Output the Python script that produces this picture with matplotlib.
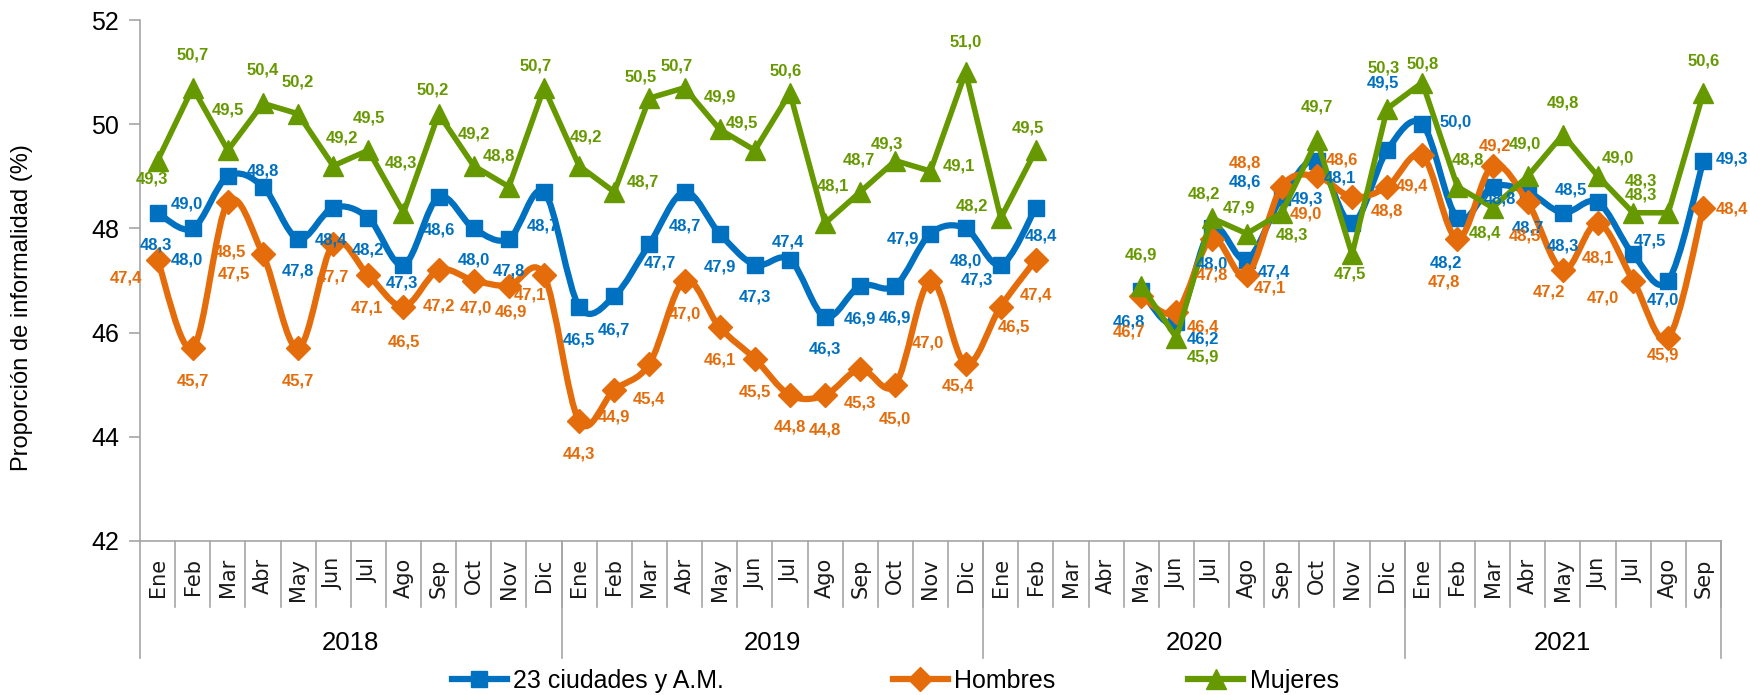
import numpy as np
import matplotlib.pyplot as plt
from matplotlib.path import Path
from matplotlib.patches import PathPatch
from matplotlib.lines import Line2D

# datos
meses = ['Ene', 'Feb', 'Mar', 'Abr', 'May', 'Jun', 'Jul', 'Ago', 'Sep', 'Oct', 'Nov', 'Dic']
anios = ['2018', '2019', '2020', '2021']
meses_por_anio = [12, 12, 12, 9]

ciudades = [48.3, 48.0, 49.0, 48.8, 47.8, 48.4, 48.2, 47.3, 48.6, 48.0, 47.8, 48.7,
            46.5, 46.7, 47.7, 48.7, 47.9, 47.3, 47.4, 46.3, 46.9, 46.9, 47.9, 48.0,
            47.3, 48.4, None, None, 46.8, 46.2, 48.0, 47.4, 48.6, 49.3, 48.1, 49.5,
            50.0, 48.2, 48.8, 48.7, 48.3, 48.5, 47.5, 47.0, 49.3]
hombres = [47.4, 45.7, 48.5, 47.5, 45.7, 47.7, 47.1, 46.5, 47.2, 47.0, 46.9, 47.1,
           44.3, 44.9, 45.4, 47.0, 46.1, 45.5, 44.8, 44.8, 45.3, 45.0, 47.0, 45.4,
           46.5, 47.4, None, None, 46.7, 46.4, 47.8, 47.1, 48.8, 49.0, 48.6, 48.8,
           49.4, 47.8, 49.2, 48.5, 47.2, 48.1, 47.0, 45.9, 48.4]
mujeres = [49.3, 50.7, 49.5, 50.4, 50.2, 49.2, 49.5, 48.3, 50.2, 49.2, 48.8, 50.7,
           49.2, 48.7, 50.5, 50.7, 49.9, 49.5, 50.6, 48.1, 48.7, 49.3, 49.1, 51.0,
           48.2, 49.5, None, None, 46.9, 45.9, 48.2, 47.9, 48.3, 49.7, 47.5, 50.3,
           50.8, 48.8, 48.4, 49.0, 49.8, 49.0, 48.3, 48.3, 50.6]
nombres = ['23 ciudades y A.M.', 'Hombres', 'Mujeres']

# posicion de las etiquetas de datos (pixeles respecto al marcador)
off_ciudades = [(-2, -32), (-6, -32), (-41, -28), (0, 16), (0, -32), (-2, -32), (0, -32), (-2, -18),
                (0, -33), (0, -32), (0, -32), (-1, -34),
                (0, -33), (0, -34), (11, -19), (0, -34), (0, -33), (0, -32), (-2, 18), (0, -32),
                (0, -33), (0, -32), (-28, -5), (0, -33),
                (-24, -15), (5, -28), None, None, (-12, -31), (27, -17), (0, -36), (27, -12),
                (-37, 15), (-10, -38), (-12, 45), (-4, 67),
                (33, 2), (-12, -45), (7, -12), (0, -36), (0, -33), (-27, 12), (17, 13), (-5, -19), (29, 2)]
off_hombres = [(-32, -18), (0, -33), (2, -50), (-29, -20), (0, -33), (0, -33), (-1, -33), (0, -35),
               (0, -36), (2, -27), (2, -26), (-14, -20),
               (0, -33), (0, -27), (0, -35), (0, -33), (0, -33), (0, -33), (0, -32), (0, -35),
               (0, -34), (0, -34), (-3, -62), (-8, -22),
               (13, -20), (0, -35), None, None, (-12, -36), (27, -15), (0, -36), (23, -13),
               (-37, 24), (-11, -38), (-10, 37), (0, -24),
               (-10, -31), (-14, -43), (2, 20), (-3, -34), (-14, -22), (0, -35), (-30, -17), (-5, -17), (29, -1)]
off_mujeres = [(-6, -18), (0, 33), (0, 40), (0, 33), (0, 32), (9, 28), (1, 32), (-3, 50),
               (-6, 24), (0, 32), (-10, 31), (-8, 22),
               (7, 29), (29, 10), (-9, 21), (-8, 22), (0, 32), (-13, 27), (-4, 22), (8, 37),
               (-1, 32), (-8, 17), (28, 5), (0, 30),
               (-29, 12), (-8, 22), None, None, (0, 31), (27, -19), (-8, 24), (-8, 26),
               (10, -22), (0, 33), (-2, -20), (-4, 41),
               (0, 19), (10, 27), (-8, -25), (-3, 32), (0, 32), (20, 18), (8, 32), (-27, 18), (0, 32)]

AZUL = '#0070C0'
NARANJA = '#E46C0A'
VERDE = '#669900'
GRIS = '#A6A6A6'
FUENTE = ['Liberation Sans', 'DejaVu Sans']


def linea_suave(ax, x, y, color, lw, z):
    # linea suavizada tipo Excel (bezier), cortada donde faltan datos
    tramos, actual = [], []
    for xi, yi in zip(x, y):
        if yi is None:
            if actual:
                tramos.append(actual)
            actual = []
        else:
            actual.append((xi, yi))
    if actual:
        tramos.append(actual)
    for pts in tramos:
        p = np.array(pts, float)
        verts = [p[0]]
        codes = [Path.MOVETO]
        for i in range(len(p) - 1):
            a = p[i - 1] if i > 0 else p[i]
            d = p[i + 2] if i + 2 < len(p) else p[i + 1]
            verts += [p[i] + (p[i + 1] - a) / 6, p[i + 1] - (d - p[i]) / 6, p[i + 1]]
            codes += [Path.CURVE4] * 3
        ax.add_patch(PathPatch(Path(verts, codes), fill=False, edgecolor=color, lw=lw,
                               capstyle='round', joinstyle='round', zorder=z))


fig = plt.figure(figsize=(17.5, 6.95), dpi=100)
ax = fig.add_axes([0.08, 0.2216, 0.9034, 0.7496])

x = np.arange(len(ciudades))

series = [
    (ciudades, AZUL, 's', 12, True, off_ciudades, 2),
    (hombres, NARANJA, 'D', 12, True, off_hombres, 3),
    (mujeres, VERDE, '^', 15, False, off_mujeres, 4),
]
for valores, color, marcador, ms, suave, offs, z in series:
    yv = np.array([np.nan if v is None else v for v in valores])
    if suave:
        linea_suave(ax, x, valores, color, 4.5, z)
        ax.plot(x, yv, ls='none', marker=marcador, ms=ms, color=color, zorder=z)
    else:
        ax.plot(x, yv, lw=4.0, marker=marcador, ms=ms, color=color, zorder=z,
                solid_joinstyle='miter')
    for xi, v, o in zip(x, valores, offs):
        if v is None:
            continue
        ax.annotate(f'{v:.1f}'.replace('.', ','), (xi, v), xytext=o, textcoords='offset pixels',
                    ha='center', va='center', color=color, fontsize=12, fontweight='bold',
                    family=FUENTE, zorder=10)

ax.set_xlim(-0.5, len(ciudades) - 0.5)
ax.set_ylim(42, 52)
ax.set_yticks(range(42, 53, 2))
ax.set_yticklabels([str(t) for t in range(42, 53, 2)], family=FUENTE, fontsize=18)
ax.set_xticks([])
ax.tick_params(axis='y', direction='out', length=8, color=GRIS, width=1.2, pad=7)
for s in ['top', 'right']:
    ax.spines[s].set_visible(False)
for s in ['left', 'bottom']:
    ax.spines[s].set_color(GRIS)
    ax.spines[s].set_linewidth(1.2)

# eje de categorias con dos niveles (mes / anio)
tr = ax.get_xaxis_transform()
y_mes = -0.127
y_anio = -0.225
etiquetas = [m for n in meses_por_anio for m in meses[:n]]
for i, m in enumerate(etiquetas):
    ax.text(i, -0.033, m, transform=tr, rotation=90, ha='center', va='top',
            fontsize=15, family='DejaVu Sans', color='#1a1a1a')
    ax.plot([i + 0.5, i + 0.5], [0, y_mes], transform=tr, color=GRIS, lw=1.2, clip_on=False)
inicio = 0
ax.plot([-0.5, -0.5], [0, y_anio], transform=tr, color=GRIS, lw=1.2, clip_on=False)
for anio, n in zip(anios, meses_por_anio):
    fin = inicio + n
    ax.plot([fin - 0.5, fin - 0.5], [0, y_anio], transform=tr, color=GRIS, lw=1.2, clip_on=False)
    ax.text((inicio + fin - 1) / 2, -0.196, anio, transform=tr, ha='center', va='center',
            fontsize=18.5, family=FUENTE)
    inicio = fin

fig.text(0.0126, 0.558, 'Proporción de informalidad (%)', rotation=90, ha='center', va='center',
         fontsize=17, family=FUENTE)

# leyenda: una entrada por serie, como en el original
handles = [
    Line2D([], [], color=AZUL, lw=4.5, marker='s', ms=12),
    Line2D([], [], color=NARANJA, lw=4.5, marker='D', ms=12),
    Line2D([], [], color=VERDE, lw=4.5, marker='^', ms=15),
]
for h, nombre, xl in zip(handles, nombres, [0.258, 0.510, 0.679]):
    fig.legend([h], [nombre], loc='center left', bbox_to_anchor=(xl, 0.02), frameon=False,
               handlelength=2.2, handletextpad=0.25, borderpad=0, borderaxespad=0,
               prop={'family': FUENTE, 'size': 18})

fig.savefig('out.png', dpi=100)
